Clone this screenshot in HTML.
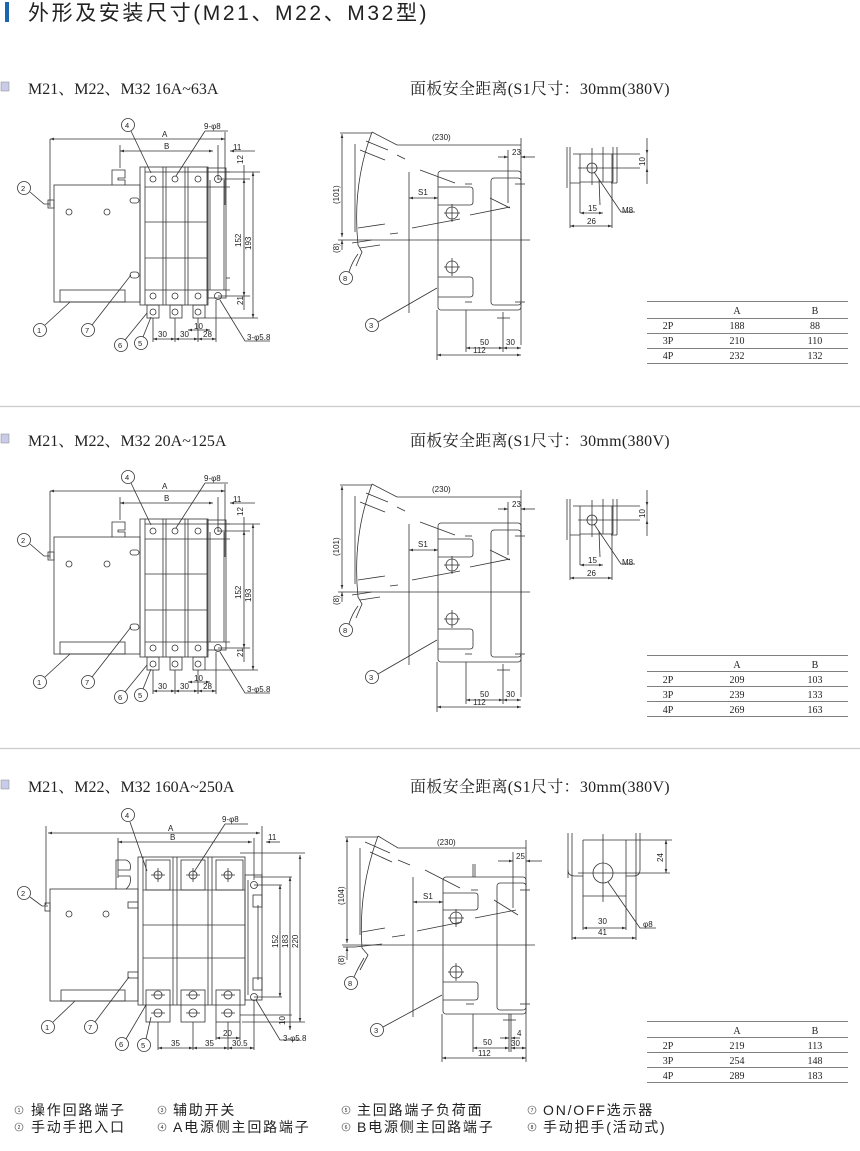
<!DOCTYPE html>
<html><head><meta charset="utf-8"><style>
html,body{margin:0;padding:0;background:#fff;}
svg{display:block;}
text{font-family:"Liberation Sans","Noto Sans CJK SC",sans-serif;fill:#222;}
.s{font-family:"Liberation Serif","Noto Serif CJK SC",serif;}
.k{font-family:"Liberation Sans","Noto Sans CJK SC",sans-serif;}
</style></head><body>
<svg width="860" height="1151" viewBox="0 0 860 1151" xmlns="http://www.w3.org/2000/svg">
<defs>
<marker id="ar" viewBox="0 0 6 6" refX="6" refY="3" markerWidth="5" markerHeight="5" orient="auto-start-reverse"><path d="M0,1 L6,3 L0,5z" fill="#333"/></marker>
</defs>
<rect x="5" y="2" width="4" height="20" fill="#1a64b0"/>
<text x="28" y="20" font-size="21" letter-spacing="2.6" class="k" fill="#333">外形及安装尺寸(M21、M22、M32型)</text>

<line x1="0" y1="406.5" x2="860" y2="406.5" stroke="#ccc" stroke-width="1.2"/>
<line x1="0" y1="748.5" x2="860" y2="748.5" stroke="#ccc" stroke-width="1.2"/>

<g>
<rect x="1" y="82" width="8" height="9" fill="#c8cce8" stroke="#888" stroke-width="0.5"/>
<text x="28" y="94" font-size="16" class="s">M21、M22、M32  16A~63A</text>
<text x="410" y="94" font-size="16" letter-spacing="0.3" class="s">面板安全距离(S1尺寸：30mm(380V)</text>
<rect x="1" y="434" width="8" height="9" fill="#c8cce8" stroke="#888" stroke-width="0.5"/>
<text x="28" y="446" font-size="16" class="s">M21、M22、M32  20A~125A</text>
<text x="410" y="446" font-size="16" letter-spacing="0.3" class="s">面板安全距离(S1尺寸：30mm(380V)</text>
<rect x="1" y="780" width="8" height="9" fill="#c8cce8" stroke="#888" stroke-width="0.5"/>
<text x="28" y="792" font-size="16" class="s">M21、M22、M32  160A~250A</text>
<text x="410" y="792" font-size="16" letter-spacing="0.3" class="s">面板安全距离(S1尺寸：30mm(380V)</text>
</g>

<g fill="none" stroke="#333" stroke-width="0.8">
 <line x1="50" y1="139" x2="50" y2="207"/>
 <line x1="50" y1="139" x2="225" y2="139" marker-start="url(#ar)" marker-end="url(#ar)"/>
 <line x1="120" y1="151" x2="213" y2="151" marker-start="url(#ar)" marker-end="url(#ar)"/>
 <line x1="120" y1="145" x2="120" y2="168"/>
 <line x1="225" y1="132" x2="225" y2="205"/>
 <line x1="218" y1="145" x2="218" y2="180"/>
 <line x1="230" y1="151" x2="255" y2="151" marker-start="url(#ar)"/>
 <rect x="54" y="185" width="86" height="117"/>
 <rect x="60" y="290" width="65" height="12"/>
 <path d="M112,185 V170 H125 V178 H118 V180 H125 V185"/>
 <rect x="48" y="200" width="6" height="8"/>
 <circle cx="69" cy="212" r="3"/>
 <circle cx="107" cy="212" r="3"/>
 <rect x="130" y="198" width="9" height="5" rx="2.5"/>
 <rect x="130" y="272" width="9" height="6" rx="3"/>
 <rect x="140" y="167" width="68" height="138"/>
 <line x1="145" y1="167" x2="145" y2="305"/>
 <line x1="163" y1="167" x2="163" y2="305"/>
 <line x1="166" y1="167" x2="166" y2="305"/>
 <line x1="185" y1="167" x2="185" y2="305"/>
 <line x1="188" y1="167" x2="188" y2="305"/>
 <line x1="207" y1="167" x2="207" y2="305"/>
 <line x1="145" y1="222" x2="207" y2="222"/>
 <line x1="145" y1="258" x2="207" y2="258"/>
 <line x1="145" y1="172" x2="230" y2="172"/>
 <line x1="145" y1="187" x2="230" y2="187"/>
 <line x1="145" y1="290" x2="230" y2="290"/>
 <circle cx="153" cy="179" r="3"/><circle cx="175" cy="179" r="3"/><circle cx="198" cy="179" r="3"/><circle cx="218" cy="179" r="3.5"/>
 <circle cx="153" cy="296" r="3"/><circle cx="175" cy="296" r="3"/><circle cx="198" cy="296" r="3"/><circle cx="218" cy="296" r="3.5"/>
 <circle cx="153" cy="312" r="3"/><circle cx="175" cy="312" r="3"/><circle cx="198" cy="312" r="3"/>
 <rect x="147" y="305" width="12" height="13"/><rect x="170" y="305" width="12" height="13"/><rect x="193" y="305" width="12" height="13"/>
 <rect x="208" y="168" width="18" height="130"/>
 <line x1="210" y1="180" x2="210" y2="290"/><line x1="224" y1="180" x2="224" y2="290"/>
 <line x1="226" y1="278" x2="230" y2="278"/>
 <line x1="218" y1="172" x2="260" y2="172"/>
 <line x1="218" y1="179" x2="250" y2="179"/>
 <line x1="218" y1="296" x2="250" y2="296"/>
 <line x1="205" y1="318" x2="258" y2="318"/>
 <line x1="244" y1="179" x2="244" y2="296" marker-start="url(#ar)" marker-end="url(#ar)"/>
 <line x1="253" y1="172" x2="253" y2="318" marker-start="url(#ar)" marker-end="url(#ar)"/>
 <line x1="244" y1="165" x2="244" y2="179"/>
 <line x1="244" y1="296" x2="244" y2="310"/>
 <line x1="153" y1="318" x2="153" y2="342"/><line x1="175" y1="318" x2="175" y2="342"/><line x1="198" y1="318" x2="198" y2="342"/><line x1="216" y1="300" x2="216" y2="342"/>
 <line x1="153" y1="339" x2="175" y2="339" marker-start="url(#ar)" marker-end="url(#ar)"/>
 <line x1="175" y1="339" x2="198" y2="339" marker-start="url(#ar)" marker-end="url(#ar)"/>
 <line x1="198" y1="339" x2="216" y2="339" marker-start="url(#ar)" marker-end="url(#ar)"/>
 <line x1="188" y1="330" x2="210" y2="330" marker-start="url(#ar)" marker-end="url(#ar)"/>
 <circle cx="128" cy="125" r="6.5"/><line x1="131" y1="131" x2="151" y2="173"/>
 <line x1="205" y1="131" x2="228" y2="131"/><line x1="205" y1="131" x2="176" y2="176"/>
 <circle cx="24" cy="188" r="6.5"/><path d="M30,192 L44,204 H50"/>
 <circle cx="40" cy="330" r="6.5"/><line x1="45" y1="325" x2="70" y2="302"/>
 <circle cx="88" cy="330" r="6.5"/><line x1="92" y1="325" x2="131" y2="275"/>
 <circle cx="121" cy="345" r="6.5"/><line x1="125" y1="340" x2="147" y2="313"/>
 <circle cx="141" cy="343" r="6.5"/><line x1="143" y1="337" x2="151" y2="317"/>
 <path d="M220,300 L245,341 H270"/>
 <line x1="340" y1="133" x2="372" y2="133"/>
 <path d="M372,132 L397,145 H521"/>
 <line x1="355" y1="144" x2="355" y2="232"/>
 <line x1="521" y1="138" x2="521" y2="345"/>
 <line x1="342" y1="134" x2="342" y2="237" marker-start="url(#ar)" marker-end="url(#ar)"/>
 <line x1="342" y1="240" x2="342" y2="250" marker-start="url(#ar)"/>
 <path d="M372,132 Q352,185 358,245 L362,252 L356,266"/>
 <line x1="366" y1="141" x2="388" y2="150"/><line x1="360" y1="150" x2="385" y2="160"/>
 <line x1="397" y1="155" x2="405" y2="159"/><line x1="420" y1="170" x2="455" y2="183"/>
 <line x1="358" y1="228" x2="385" y2="224"/><line x1="390" y1="234" x2="398" y2="233"/><line x1="412" y1="228" x2="460" y2="219"/>
 <line x1="470" y1="215" x2="510" y2="207"/><line x1="490" y1="198" x2="510" y2="208"/>
 <line x1="352" y1="243" x2="372" y2="240"/><line x1="360" y1="248" x2="380" y2="245"/>
 <line x1="338" y1="240" x2="530" y2="240"/>
 <line x1="409" y1="172" x2="409" y2="313"/>
 <rect x="438" y="171" width="83" height="139" rx="3"/>
 <rect x="491" y="178" width="30" height="127" rx="3"/>
 <path d="M438,187 H470 Q473,187 473,190 V202 Q473,205 470,205 H438"/>
 <path d="M438,277 H470 Q473,277 473,280 V294 Q473,297 470,297 H438"/>
 <circle cx="452" cy="213" r="6"/><line x1="444" y1="213" x2="460" y2="213"/><line x1="452" y1="204" x2="452" y2="222"/>
 <circle cx="452" cy="267" r="6"/><line x1="444" y1="267" x2="460" y2="267"/><line x1="452" y1="258" x2="452" y2="276"/>
 <line x1="465" y1="184" x2="472" y2="184"/><line x1="465" y1="302" x2="472" y2="302"/>
 <line x1="515" y1="184" x2="525" y2="184"/><line x1="515" y1="302" x2="525" y2="302"/>
 <line x1="409" y1="198" x2="438" y2="198" marker-start="url(#ar)" marker-end="url(#ar)"/>
 <line x1="508" y1="150" x2="508" y2="203"/>
 <line x1="498" y1="157" x2="508" y2="157" marker-end="url(#ar)"/><line x1="535" y1="157" x2="521" y2="157" marker-end="url(#ar)"/>
 <line x1="437" y1="310" x2="437" y2="360"/><line x1="466" y1="310" x2="466" y2="352"/>
 <line x1="503" y1="312" x2="503" y2="352"/><line x1="497" y1="318" x2="510" y2="318"/>
 <line x1="466" y1="348" x2="503" y2="348" marker-start="url(#ar)" marker-end="url(#ar)"/>
 <line x1="503" y1="348" x2="521" y2="348" marker-start="url(#ar)" marker-end="url(#ar)"/>
 <line x1="437" y1="355" x2="521" y2="355" marker-start="url(#ar)" marker-end="url(#ar)"/>
 <circle cx="346" cy="278" r="6.5"/><path d="M349,272 Q352,262 358,254"/>
 <circle cx="372" cy="325" r="6.5"/><line x1="378" y1="322" x2="437" y2="288"/>
 <line x1="567" y1="147" x2="567" y2="188"/><line x1="570" y1="147" x2="570" y2="228"/>
 <line x1="573" y1="154" x2="640" y2="154"/>
 <path d="M570,183 H580 M611,183 H617 M580,154 V213 M612,154 V228"/>
 <line x1="580" y1="182" x2="613" y2="182"/>
 <line x1="603" y1="147" x2="603" y2="182"/><line x1="613" y1="147" x2="613" y2="182"/><line x1="617" y1="147" x2="617" y2="183"/>
 <line x1="592" y1="148" x2="592" y2="185"/><line x1="578" y1="168" x2="640" y2="168"/>
 <circle cx="592" cy="168" r="5"/>
 <line x1="599" y1="179" x2="600" y2="205"/>
 <line x1="647" y1="138" x2="647" y2="154" marker-end="url(#ar)"/><line x1="647" y1="184" x2="647" y2="168" marker-end="url(#ar)"/><line x1="647" y1="154" x2="647" y2="168"/>
 <line x1="580" y1="213" x2="603" y2="213" marker-start="url(#ar)" marker-end="url(#ar)"/>
 <line x1="570" y1="226" x2="612" y2="226" marker-start="url(#ar)" marker-end="url(#ar)"/>
 <path d="M594,172 L621,212 H635"/>
</g>
<g font-size="8">
 <text x="162" y="137">A</text><text x="164" y="149">B</text>
 <text x="204" y="129">9-φ8</text><text x="233" y="150">11</text>
 <text x="125" y="128" font-size="7.5">4</text><text x="21" y="191" font-size="7.5">2</text><text x="37" y="333" font-size="7.5">1</text><text x="85" y="333" font-size="7.5">7</text><text x="118" y="348" font-size="7.5">6</text><text x="138" y="346" font-size="7.5">5</text>
 <text x="158" y="337">30</text><text x="180" y="337">30</text><text x="203" y="337">28</text><text x="194" y="329">10</text>
 <text x="247" y="340">3-φ5.8</text>
 <text transform="translate(243,164) rotate(-90)">12</text>
 <text transform="translate(243,305) rotate(-90)">21</text>
 <text transform="translate(241,247) rotate(-90)">152</text>
 <text transform="translate(251,250) rotate(-90)">193</text>
 <text x="432" y="140">(230)</text><text x="512" y="155">23</text><text x="418" y="195">S1</text>
 <text transform="translate(339,204) rotate(-90)">(101)</text>
 <text transform="translate(339,253) rotate(-90)">(8)</text>
 <text x="343" y="281" font-size="7.5">8</text><text x="369" y="328" font-size="7.5">3</text>
 <text x="480" y="345">50</text><text x="506" y="345">30</text><text x="473" y="353">112</text>
 <text x="588" y="211">15</text><text x="587" y="224">26</text><text x="622" y="213">M8</text>
 <text transform="translate(645,166) rotate(-90)">10</text>
</g>

<g transform="translate(0,352)">
<g fill="none" stroke="#333" stroke-width="0.8">
 <line x1="50" y1="139" x2="50" y2="207"/>
 <line x1="50" y1="139" x2="225" y2="139" marker-start="url(#ar)" marker-end="url(#ar)"/>
 <line x1="120" y1="151" x2="213" y2="151" marker-start="url(#ar)" marker-end="url(#ar)"/>
 <line x1="120" y1="145" x2="120" y2="168"/>
 <line x1="225" y1="132" x2="225" y2="205"/>
 <line x1="218" y1="145" x2="218" y2="180"/>
 <line x1="230" y1="151" x2="255" y2="151" marker-start="url(#ar)"/>
 <rect x="54" y="185" width="86" height="117"/>
 <rect x="60" y="290" width="65" height="12"/>
 <path d="M112,185 V170 H125 V178 H118 V180 H125 V185"/>
 <rect x="48" y="200" width="6" height="8"/>
 <circle cx="69" cy="212" r="3"/>
 <circle cx="107" cy="212" r="3"/>
 <rect x="130" y="198" width="9" height="5" rx="2.5"/>
 <rect x="130" y="272" width="9" height="6" rx="3"/>
 <rect x="140" y="167" width="68" height="138"/>
 <line x1="145" y1="167" x2="145" y2="305"/>
 <line x1="163" y1="167" x2="163" y2="305"/>
 <line x1="166" y1="167" x2="166" y2="305"/>
 <line x1="185" y1="167" x2="185" y2="305"/>
 <line x1="188" y1="167" x2="188" y2="305"/>
 <line x1="207" y1="167" x2="207" y2="305"/>
 <line x1="145" y1="222" x2="207" y2="222"/>
 <line x1="145" y1="258" x2="207" y2="258"/>
 <line x1="145" y1="172" x2="230" y2="172"/>
 <line x1="145" y1="187" x2="230" y2="187"/>
 <line x1="145" y1="290" x2="230" y2="290"/>
 <circle cx="153" cy="179" r="3"/><circle cx="175" cy="179" r="3"/><circle cx="198" cy="179" r="3"/><circle cx="218" cy="179" r="3.5"/>
 <circle cx="153" cy="296" r="3"/><circle cx="175" cy="296" r="3"/><circle cx="198" cy="296" r="3"/><circle cx="218" cy="296" r="3.5"/>
 <circle cx="153" cy="312" r="3"/><circle cx="175" cy="312" r="3"/><circle cx="198" cy="312" r="3"/>
 <rect x="147" y="305" width="12" height="13"/><rect x="170" y="305" width="12" height="13"/><rect x="193" y="305" width="12" height="13"/>
 <rect x="208" y="168" width="18" height="130"/>
 <line x1="210" y1="180" x2="210" y2="290"/><line x1="224" y1="180" x2="224" y2="290"/>
 <line x1="218" y1="172" x2="260" y2="172"/>
 <line x1="218" y1="179" x2="250" y2="179"/>
 <line x1="218" y1="296" x2="250" y2="296"/>
 <line x1="205" y1="318" x2="258" y2="318"/>
 <line x1="244" y1="179" x2="244" y2="296" marker-start="url(#ar)" marker-end="url(#ar)"/>
 <line x1="253" y1="172" x2="253" y2="318" marker-start="url(#ar)" marker-end="url(#ar)"/>
 <line x1="244" y1="165" x2="244" y2="179"/>
 <line x1="244" y1="296" x2="244" y2="310"/>
 <line x1="153" y1="318" x2="153" y2="342"/><line x1="175" y1="318" x2="175" y2="342"/><line x1="198" y1="318" x2="198" y2="342"/><line x1="216" y1="300" x2="216" y2="342"/>
 <line x1="153" y1="339" x2="175" y2="339" marker-start="url(#ar)" marker-end="url(#ar)"/>
 <line x1="175" y1="339" x2="198" y2="339" marker-start="url(#ar)" marker-end="url(#ar)"/>
 <line x1="198" y1="339" x2="216" y2="339" marker-start="url(#ar)" marker-end="url(#ar)"/>
 <line x1="188" y1="330" x2="210" y2="330" marker-start="url(#ar)" marker-end="url(#ar)"/>
 <circle cx="128" cy="125" r="6.5"/><line x1="131" y1="131" x2="151" y2="173"/>
 <line x1="205" y1="131" x2="228" y2="131"/><line x1="205" y1="131" x2="176" y2="176"/>
 <circle cx="24" cy="188" r="6.5"/><path d="M30,192 L44,204 H50"/>
 <circle cx="40" cy="330" r="6.5"/><line x1="45" y1="325" x2="70" y2="302"/>
 <circle cx="88" cy="330" r="6.5"/><line x1="92" y1="325" x2="131" y2="275"/>
 <circle cx="121" cy="345" r="6.5"/><line x1="125" y1="340" x2="147" y2="313"/>
 <circle cx="141" cy="343" r="6.5"/><line x1="143" y1="337" x2="151" y2="317"/>
 <path d="M220,300 L245,341 H270"/>
 <line x1="340" y1="133" x2="372" y2="133"/>
 <path d="M372,132 L397,145 H521"/>
 <line x1="355" y1="144" x2="355" y2="232"/>
 <line x1="521" y1="138" x2="521" y2="345"/>
 <line x1="342" y1="134" x2="342" y2="237" marker-start="url(#ar)" marker-end="url(#ar)"/>
 <line x1="342" y1="240" x2="342" y2="250" marker-start="url(#ar)"/>
 <path d="M372,132 Q352,185 358,245 L362,252 L356,266"/>
 <line x1="366" y1="141" x2="388" y2="150"/><line x1="360" y1="150" x2="385" y2="160"/>
 <line x1="397" y1="155" x2="405" y2="159"/><line x1="420" y1="170" x2="455" y2="183"/>
 <line x1="358" y1="228" x2="385" y2="224"/><line x1="390" y1="234" x2="398" y2="233"/><line x1="412" y1="228" x2="460" y2="219"/>
 <line x1="470" y1="215" x2="510" y2="207"/><line x1="490" y1="198" x2="510" y2="208"/>
 <line x1="352" y1="243" x2="372" y2="240"/><line x1="360" y1="248" x2="380" y2="245"/>
 <line x1="338" y1="240" x2="530" y2="240"/>
 <line x1="409" y1="172" x2="409" y2="313"/>
 <rect x="438" y="171" width="83" height="139" rx="3"/>
 <rect x="491" y="178" width="30" height="127" rx="3"/>
 <path d="M438,187 H470 Q473,187 473,190 V202 Q473,205 470,205 H438"/>
 <path d="M438,277 H470 Q473,277 473,280 V294 Q473,297 470,297 H438"/>
 <circle cx="452" cy="213" r="6"/><line x1="444" y1="213" x2="460" y2="213"/><line x1="452" y1="204" x2="452" y2="222"/>
 <circle cx="452" cy="267" r="6"/><line x1="444" y1="267" x2="460" y2="267"/><line x1="452" y1="258" x2="452" y2="276"/>
 <line x1="465" y1="184" x2="472" y2="184"/><line x1="465" y1="302" x2="472" y2="302"/>
 <line x1="515" y1="184" x2="525" y2="184"/><line x1="515" y1="302" x2="525" y2="302"/>
 <line x1="409" y1="198" x2="438" y2="198" marker-start="url(#ar)" marker-end="url(#ar)"/>
 <line x1="508" y1="150" x2="508" y2="203"/>
 <line x1="498" y1="157" x2="508" y2="157" marker-end="url(#ar)"/><line x1="535" y1="157" x2="521" y2="157" marker-end="url(#ar)"/>
 <line x1="437" y1="310" x2="437" y2="360"/><line x1="466" y1="310" x2="466" y2="352"/>
 <line x1="503" y1="312" x2="503" y2="352"/><line x1="497" y1="318" x2="510" y2="318"/>
 <line x1="466" y1="348" x2="503" y2="348" marker-start="url(#ar)" marker-end="url(#ar)"/>
 <line x1="503" y1="348" x2="521" y2="348" marker-start="url(#ar)" marker-end="url(#ar)"/>
 <line x1="437" y1="355" x2="521" y2="355" marker-start="url(#ar)" marker-end="url(#ar)"/>
 <circle cx="346" cy="278" r="6.5"/><path d="M349,272 Q352,262 358,254"/>
 <circle cx="372" cy="325" r="6.5"/><line x1="378" y1="322" x2="437" y2="288"/>
 <line x1="567" y1="147" x2="567" y2="188"/><line x1="570" y1="147" x2="570" y2="228"/>
 <line x1="573" y1="154" x2="640" y2="154"/>
 <path d="M570,183 H580 M611,183 H617 M580,154 V213 M612,154 V228"/>
 <line x1="580" y1="182" x2="613" y2="182"/>
 <line x1="603" y1="147" x2="603" y2="182"/><line x1="613" y1="147" x2="613" y2="182"/><line x1="617" y1="147" x2="617" y2="183"/>
 <line x1="592" y1="148" x2="592" y2="185"/><line x1="578" y1="168" x2="640" y2="168"/>
 <circle cx="592" cy="168" r="5"/>
 <line x1="599" y1="179" x2="600" y2="205"/>
 <line x1="647" y1="138" x2="647" y2="154" marker-end="url(#ar)"/><line x1="647" y1="184" x2="647" y2="168" marker-end="url(#ar)"/><line x1="647" y1="154" x2="647" y2="168"/>
 <line x1="580" y1="213" x2="603" y2="213" marker-start="url(#ar)" marker-end="url(#ar)"/>
 <line x1="570" y1="226" x2="612" y2="226" marker-start="url(#ar)" marker-end="url(#ar)"/>
 <path d="M594,172 L621,212 H635"/>
</g>
<g font-size="8">
 <text x="162" y="137">A</text><text x="164" y="149">B</text>
 <text x="204" y="129">9-φ8</text><text x="233" y="150">11</text>
 <text x="125" y="128" font-size="7.5">4</text><text x="21" y="191" font-size="7.5">2</text><text x="37" y="333" font-size="7.5">1</text><text x="85" y="333" font-size="7.5">7</text><text x="118" y="348" font-size="7.5">6</text><text x="138" y="346" font-size="7.5">5</text>
 <text x="158" y="337">30</text><text x="180" y="337">30</text><text x="203" y="337">28</text><text x="194" y="329">10</text>
 <text x="247" y="340">3-φ5.8</text>
 <text transform="translate(243,164) rotate(-90)">12</text>
 <text transform="translate(243,305) rotate(-90)">21</text>
 <text transform="translate(241,247) rotate(-90)">152</text>
 <text transform="translate(251,250) rotate(-90)">193</text>
 <text x="432" y="140">(230)</text><text x="512" y="155">23</text><text x="418" y="195">S1</text>
 <text transform="translate(339,204) rotate(-90)">(101)</text>
 <text transform="translate(339,253) rotate(-90)">(8)</text>
 <text x="343" y="281" font-size="7.5">8</text><text x="369" y="328" font-size="7.5">3</text>
 <text x="480" y="345">50</text><text x="506" y="345">30</text><text x="473" y="353">112</text>
 <text x="588" y="211">15</text><text x="587" y="224">26</text><text x="622" y="213">M8</text>
 <text transform="translate(645,166) rotate(-90)">10</text>
</g>
</g>

<g fill="none" stroke="#333" stroke-width="0.8">
 <line x1="46" y1="826" x2="46" y2="905"/>
 <line x1="48" y1="833" x2="260" y2="833" marker-start="url(#ar)" marker-end="url(#ar)"/>
 <line x1="118" y1="842" x2="252" y2="842" marker-start="url(#ar)" marker-end="url(#ar)"/>
 <line x1="118" y1="838" x2="118" y2="878"/>
 <line x1="262" y1="826" x2="262" y2="905"/><line x1="254" y1="838" x2="254" y2="880"/>
 <line x1="266" y1="842" x2="280" y2="842" marker-start="url(#ar)"/>
 <rect x="50" y="889" width="88" height="112"/>
 <rect x="61" y="990" width="64" height="11"/>
 <path d="M116,889 V860 H126 Q132,862 130,870 H118 M118,876 H130 Q132,884 126,889"/>
 <rect x="45" y="903" width="5" height="8"/>
 <circle cx="69" cy="914" r="3"/><circle cx="106" cy="914" r="3"/>
 <rect x="128" y="902" width="10" height="6"/><rect x="128" y="972" width="10" height="6"/>
 <rect x="138" y="857" width="107" height="148"/>
 <line x1="143" y1="857" x2="143" y2="1005"/>
 <line x1="173" y1="857" x2="173" y2="1005"/><line x1="177" y1="857" x2="177" y2="1005"/>
 <line x1="208" y1="857" x2="208" y2="1005"/><line x1="212" y1="857" x2="212" y2="1005"/>
 <line x1="143" y1="925" x2="245" y2="925"/><line x1="143" y1="958" x2="245" y2="958"/>
 <line x1="143" y1="890" x2="245" y2="890"/>
 <rect x="146" y="860" width="24" height="30"/><rect x="181" y="860" width="24" height="30"/><rect x="216" y="860" width="27" height="30"/>
 <rect x="146" y="990" width="24" height="32"/><rect x="181" y="990" width="24" height="32"/><rect x="216" y="990" width="24" height="32"/>
 <circle cx="158" cy="875" r="4"/><circle cx="193" cy="875" r="4"/><circle cx="228" cy="875" r="4"/>
 <circle cx="158" cy="995" r="4"/><circle cx="193" cy="995" r="4"/><circle cx="228" cy="995" r="4"/>
 <circle cx="158" cy="1013" r="4"/><circle cx="193" cy="1013" r="4"/><circle cx="228" cy="1013" r="4"/>
 <path d="M151,875 H165 M186,875 H200 M221,875 H235 M158,868 V882 M193,868 V882 M228,868 V882"/>
 <path d="M151,995 H165 M186,995 H200 M221,995 H235 M151,1013 H165 M186,1013 H200 M221,1013 H235"/>
 <rect x="245" y="875" width="17" height="125"/>
 <line x1="248" y1="880" x2="248" y2="995"/><line x1="258" y1="905" x2="258" y2="980"/>
 <rect x="253" y="895" width="9" height="12"/><rect x="253" y="978" width="9" height="12"/>
 <circle cx="254" cy="885" r="3.5"/><circle cx="254" cy="997" r="3.5"/>
 <line x1="240" y1="853" x2="305" y2="853"/>
 <line x1="254" y1="877" x2="292" y2="877"/>
 <line x1="254" y1="885" x2="282" y2="885"/>
 <line x1="254" y1="997" x2="282" y2="997"/>
 <line x1="240" y1="1015" x2="292" y2="1015"/>
 <line x1="242" y1="1022" x2="305" y2="1022"/>
 <line x1="280" y1="885" x2="280" y2="997" marker-start="url(#ar)" marker-end="url(#ar)"/>
 <line x1="290" y1="877" x2="290" y2="1030" marker-start="url(#ar)" marker-end="url(#ar)"/>
 <line x1="300" y1="855" x2="300" y2="1022" marker-start="url(#ar)" marker-end="url(#ar)"/>
 <line x1="158" y1="1022" x2="158" y2="1050"/><line x1="193" y1="1022" x2="193" y2="1050"/><line x1="228" y1="1022" x2="228" y2="1050"/><line x1="254" y1="1000" x2="254" y2="1050"/>
 <line x1="216" y1="1022" x2="216" y2="1040"/><line x1="240" y1="1022" x2="240" y2="1040"/>
 <line x1="158" y1="1048" x2="193" y2="1048" marker-start="url(#ar)" marker-end="url(#ar)"/>
 <line x1="193" y1="1048" x2="228" y2="1048" marker-start="url(#ar)" marker-end="url(#ar)"/>
 <line x1="228" y1="1048" x2="254" y2="1048" marker-start="url(#ar)" marker-end="url(#ar)"/>
 <line x1="216" y1="1038" x2="240" y2="1038" marker-start="url(#ar)" marker-end="url(#ar)"/>
 <circle cx="128" cy="815" r="6.5"/><line x1="130" y1="822" x2="147" y2="871"/>
 <line x1="225" y1="824" x2="248" y2="824"/><line x1="225" y1="824" x2="194" y2="872"/>
 <circle cx="24" cy="893" r="6.5"/><path d="M30,897 L42,906 H48"/>
 <circle cx="48" cy="1027" r="6.5"/><line x1="53" y1="1022" x2="75" y2="1001"/>
 <circle cx="91" cy="1027" r="6.5"/><line x1="95" y1="1022" x2="129" y2="977"/>
 <circle cx="122" cy="1044" r="6.5"/><line x1="126" y1="1039" x2="146" y2="1005"/>
 <circle cx="144" cy="1045" r="6.5"/><line x1="146" y1="1039" x2="151" y2="1017"/>
 <path d="M256,1000 L280,1040 H300"/>
 <line x1="345" y1="837" x2="378" y2="837"/>
 <path d="M378,836 L398,848 H526"/>
 <line x1="360" y1="848" x2="360" y2="935"/>
 <line x1="526" y1="840" x2="526" y2="1062"/>
 <line x1="347" y1="838" x2="347" y2="943" marker-start="url(#ar)" marker-end="url(#ar)"/>
 <line x1="347" y1="947" x2="347" y2="960" marker-start="url(#ar)"/>
 <line x1="343" y1="947" x2="355" y2="947"/>
 <path d="M378,836 Q358,890 362,948 L368,955 L360,970"/>
 <line x1="365" y1="842" x2="390" y2="853"/><line x1="370" y1="852" x2="392" y2="862"/>
 <line x1="398" y1="860" x2="410" y2="865"/><line x1="425" y1="870" x2="460" y2="888"/>
 <line x1="362" y1="932" x2="385" y2="928"/><line x1="392" y1="937" x2="405" y2="935"/><line x1="417" y1="931" x2="462" y2="922"/>
 <line x1="475" y1="918" x2="516" y2="910"/><line x1="494" y1="900" x2="518" y2="915"/>
 <line x1="355" y1="947" x2="382" y2="944"/>
 <line x1="342" y1="945" x2="535" y2="945"/>
 <line x1="413" y1="877" x2="413" y2="1017"/>
 <rect x="443" y="877" width="83" height="137" rx="3"/>
 <rect x="497" y="883" width="29" height="127" rx="3"/>
 <path d="M443,893 H475 Q478,893 478,896 V907 Q478,910 475,910 H443"/>
 <path d="M443,982 H475 Q478,982 478,985 V997 Q478,1000 475,1000 H443"/>
 <circle cx="456" cy="918" r="6"/><line x1="448" y1="918" x2="464" y2="918"/><line x1="456" y1="909" x2="456" y2="927"/>
 <circle cx="456" cy="972" r="6"/><line x1="448" y1="972" x2="464" y2="972"/><line x1="456" y1="963" x2="456" y2="981"/>
 <line x1="473" y1="864" x2="473" y2="877"/><line x1="475" y1="864" x2="475" y2="877"/>
 <line x1="471" y1="890" x2="478" y2="890"/><line x1="466" y1="1004" x2="474" y2="1004"/>
 <line x1="520" y1="890" x2="530" y2="890"/><line x1="520" y1="1004" x2="530" y2="1004"/>
 <line x1="413" y1="902" x2="443" y2="902" marker-start="url(#ar)" marker-end="url(#ar)"/>
 <line x1="513" y1="852" x2="513" y2="908"/>
 <line x1="498" y1="861" x2="513" y2="861" marker-end="url(#ar)"/><line x1="542" y1="861" x2="526" y2="861" marker-end="url(#ar)"/>
 <line x1="442" y1="1014" x2="442" y2="1062"/><line x1="473" y1="1014" x2="473" y2="1052"/>
 <line x1="509" y1="1014" x2="509" y2="1052"/><line x1="511" y1="1014" x2="511" y2="1052"/><line x1="503" y1="1020" x2="516" y2="1020"/>
 <line x1="473" y1="1048" x2="509" y2="1048" marker-start="url(#ar)" marker-end="url(#ar)"/>
 <line x1="511" y1="1048" x2="526" y2="1048" marker-start="url(#ar)" marker-end="url(#ar)"/>
 <line x1="500" y1="1038" x2="509" y2="1038" marker-end="url(#ar)"/><line x1="520" y1="1038" x2="511" y2="1038" marker-end="url(#ar)"/>
 <line x1="442" y1="1058" x2="526" y2="1058" marker-start="url(#ar)" marker-end="url(#ar)"/>
 <circle cx="351" cy="983" r="6.5"/><path d="M354,977 Q358,968 364,958"/>
 <circle cx="377" cy="1030" r="6.5"/><line x1="383" y1="1027" x2="442" y2="995"/>
 <line x1="568" y1="833" x2="568" y2="878"/><line x1="572" y1="833" x2="572" y2="940"/>
 <path d="M568,870 Q568,876 575,876 H583 M640,833 V870 Q640,876 633,876 H626"/>
 <line x1="636" y1="833" x2="636" y2="940"/>
 <line x1="583" y1="840" x2="583" y2="930"/><line x1="626" y1="840" x2="626" y2="930"/>
 <line x1="583" y1="840" x2="672" y2="840"/><line x1="578" y1="873" x2="670" y2="873"/>
 <line x1="583" y1="896" x2="626" y2="896"/>
 <line x1="603" y1="834" x2="603" y2="902"/>
 <circle cx="603" cy="873" r="10"/>
 <line x1="666" y1="840" x2="666" y2="873" marker-start="url(#ar)" marker-end="url(#ar)"/>
 <line x1="583" y1="928" x2="626" y2="928" marker-start="url(#ar)" marker-end="url(#ar)"/>
 <line x1="572" y1="938" x2="636" y2="938" marker-start="url(#ar)" marker-end="url(#ar)"/>
 <path d="M608,882 L640,928 H656"/>
</g>
<g font-size="8">
 <text x="168" y="831">A</text><text x="170" y="840">B</text>
 <text x="222" y="822">9-φ8</text><text x="268" y="840">11</text>
 <text x="125" y="818" font-size="7.5">4</text><text x="21" y="896" font-size="7.5">2</text><text x="45" y="1030" font-size="7.5">1</text><text x="88" y="1030" font-size="7.5">7</text><text x="119" y="1047" font-size="7.5">6</text><text x="141" y="1048" font-size="7.5">5</text>
 <text x="171" y="1046">35</text><text x="205" y="1046">35</text><text x="232" y="1046">30.5</text><text x="223" y="1036">20</text>
 <text x="283" y="1041">3-φ5.8</text>
 <text transform="translate(285,1025) rotate(-90)">10</text>
 <text transform="translate(278,948) rotate(-90)">152</text>
 <text transform="translate(288,948) rotate(-90)">183</text>
 <text transform="translate(298,948) rotate(-90)">220</text>
 <text x="437" y="845">(230)</text><text x="516" y="859">25</text><text x="423" y="899">S1</text>
 <text transform="translate(344,905) rotate(-90)">(104)</text>
 <text transform="translate(344,965) rotate(-90)">(8)</text>
 <text x="348" y="986" font-size="7.5">8</text><text x="374" y="1033" font-size="7.5">3</text>
 <text x="483" y="1045">50</text><text x="511" y="1046">30</text><text x="517" y="1036">4</text><text x="478" y="1056">112</text>
 <text x="598" y="924">30</text><text x="598" y="935">41</text><text x="643" y="927">φ8</text>
 <text transform="translate(663,862) rotate(-90)">24</text>
</g>

<g stroke="#555" stroke-width="0.8">
 <line x1="647" y1="301.5" x2="848" y2="301.5"/><line x1="647" y1="318.5" x2="848" y2="318.5"/><line x1="647" y1="333.5" x2="848" y2="333.5"/><line x1="647" y1="348.5" x2="848" y2="348.5"/><line x1="647" y1="363.5" x2="848" y2="363.5"/>
 <line x1="647" y1="655.5" x2="848" y2="655.5"/><line x1="647" y1="671.5" x2="848" y2="671.5"/><line x1="647" y1="686.5" x2="848" y2="686.5"/><line x1="647" y1="701.5" x2="848" y2="701.5"/><line x1="647" y1="716.5" x2="848" y2="716.5"/>
 <line x1="647" y1="1021.5" x2="848" y2="1021.5"/><line x1="647" y1="1037.5" x2="848" y2="1037.5"/><line x1="647" y1="1052.5" x2="848" y2="1052.5"/><line x1="647" y1="1067.5" x2="848" y2="1067.5"/><line x1="647" y1="1082.5" x2="848" y2="1082.5"/>
</g>
<g font-size="10" class="s" text-anchor="middle">
 <text x="737" y="314" class="s">A</text><text x="815" y="314" class="s">B</text>
 <text x="668" y="329" class="s">2P</text><text x="737" y="329" class="s">188</text><text x="815" y="329" class="s">88</text>
 <text x="668" y="344" class="s">3P</text><text x="737" y="344" class="s">210</text><text x="815" y="344" class="s">110</text>
 <text x="668" y="359" class="s">4P</text><text x="737" y="359" class="s">232</text><text x="815" y="359" class="s">132</text>
 <text x="737" y="668" class="s">A</text><text x="815" y="668" class="s">B</text>
 <text x="668" y="683" class="s">2P</text><text x="737" y="683" class="s">209</text><text x="815" y="683" class="s">103</text>
 <text x="668" y="698" class="s">3P</text><text x="737" y="698" class="s">239</text><text x="815" y="698" class="s">133</text>
 <text x="668" y="713" class="s">4P</text><text x="737" y="713" class="s">269</text><text x="815" y="713" class="s">163</text>
 <text x="737" y="1034" class="s">A</text><text x="815" y="1034" class="s">B</text>
 <text x="668" y="1049" class="s">2P</text><text x="737" y="1049" class="s">219</text><text x="815" y="1049" class="s">113</text>
 <text x="668" y="1064" class="s">3P</text><text x="737" y="1064" class="s">254</text><text x="815" y="1064" class="s">148</text>
 <text x="668" y="1079" class="s">4P</text><text x="737" y="1079" class="s">289</text><text x="815" y="1079" class="s">183</text>
</g>

<g fill="none" stroke="#444" stroke-width="0.6">
 <circle cx="19" cy="1110" r="4"/><circle cx="19" cy="1127" r="4"/>
 <circle cx="162" cy="1110" r="4"/><circle cx="162" cy="1127" r="4"/>
 <circle cx="346" cy="1110" r="4"/><circle cx="346" cy="1127" r="4"/>
 <circle cx="532" cy="1110" r="4"/><circle cx="532" cy="1127" r="4"/>
</g>
<g font-size="5" text-anchor="middle">
 <text x="19" y="1112">1</text><text x="19" y="1129">2</text><text x="162" y="1112">3</text><text x="162" y="1129">4</text>
 <text x="346" y="1112">5</text><text x="346" y="1129">6</text><text x="532" y="1112">7</text><text x="532" y="1129">8</text>
</g>
<g font-size="14" letter-spacing="1.8" class="k">
 <text x="31" y="1115">操作回路端子</text>
 <text x="31" y="1132">手动手把入口</text>
 <text x="173" y="1115">辅助开关</text>
 <text x="173" y="1132">A电源侧主回路端子</text>
 <text x="357" y="1115">主回路端子负荷面</text>
 <text x="357" y="1132">B电源侧主回路端子</text>
 <text x="543" y="1115">ON/OFF选示器</text>
 <text x="543" y="1132">手动把手(活动式)</text>
</g>
</svg>
</body></html>
